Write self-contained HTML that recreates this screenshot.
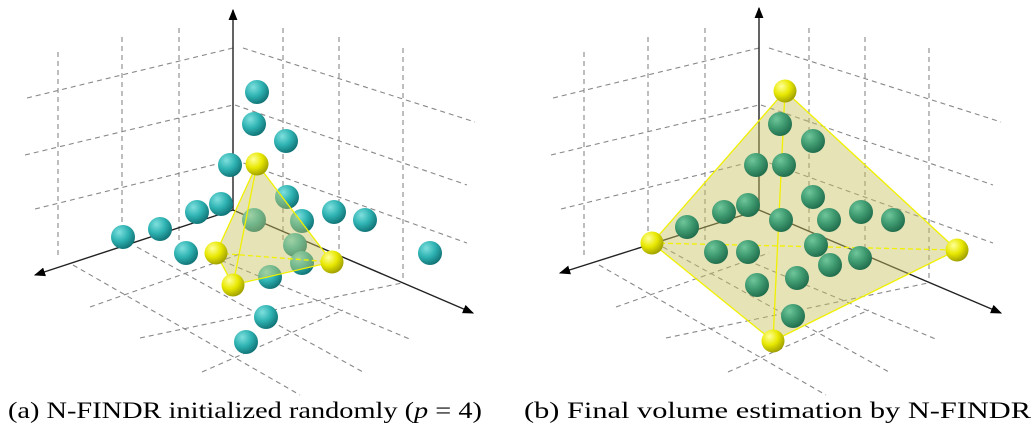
<!DOCTYPE html>
<html><head><meta charset="utf-8"><style>
html,body{margin:0;padding:0;background:#fff;width:1036px;height:436px;overflow:hidden}
svg{display:block}
</style></head><body>
<svg id="fig" width="1036" height="436" viewBox="0 0 1036 436" xmlns="http://www.w3.org/2000/svg">
<defs>
<radialGradient id="gc" cx="0.35" cy="0.3" r="0.75"><stop offset="0" stop-color="#7fe0de"/><stop offset="0.5" stop-color="#2fb3b3"/><stop offset="1" stop-color="#0f6f72"/></radialGradient>
<radialGradient id="gg" cx="0.35" cy="0.3" r="0.75"><stop offset="0" stop-color="#6fc69a"/><stop offset="0.5" stop-color="#3f9a70"/><stop offset="1" stop-color="#1f6a4a"/></radialGradient>
<radialGradient id="gy" cx="0.35" cy="0.3" r="0.75"><stop offset="0" stop-color="#ffff9a"/><stop offset="0.5" stop-color="#e8e800"/><stop offset="1" stop-color="#9a9a00"/></radialGradient>
<marker id="ar" viewBox="0 0 10 10" refX="9" refY="5" markerWidth="8" markerHeight="8" orient="auto"><path d="M0,1 L10,5 L0,9 z" fill="#000"/></marker>
</defs>
<g id="pa"></g>
<g id="pb"></g>
<text x="8" y="418" font-family="Liberation Serif, serif" font-size="23" textLength="474" lengthAdjust="spacingAndGlyphs">(a) N-FINDR initialized randomly (<tspan font-style="italic">p</tspan> = 4)</text>
<text x="524" y="418" font-family="Liberation Serif, serif" font-size="23" textLength="507" lengthAdjust="spacingAndGlyphs">(b) Final volume estimation by N-FINDR</text>
</svg>
<script>
// panel A data (pixel-space projected positions)
const cyanA = [[257,92],[254,124],[286,141],[230,165],[287,197],[197,212],[221,204],[160,229],[123,237],[254,220],[302,221],[334,212],[365,220],[295,245],[186,253],[302,263],[270,277],[430,253],[266,317],[246,342]];
const yellowA = [[257,164],[216,253],[332,262],[233,285]];
const greenB = [[780,124],[813,141],[756,165],[784,165],[813,197],[724,212],[748,205],[687,227],[781,220],[829,220],[861,212],[893,220],[816,245],[716,252],[748,252],[860,258],[830,265],[757,285],[797,278],[793,316]];
const yellowB = [[785,91],[652,243],[957,250],[773,341]];

const NS='http://www.w3.org/2000/svg';
function mk(tag,attrs,parent){const e=document.createElementNS(NS,tag);for(const k in attrs)e.setAttribute(k,attrs[k]);parent.appendChild(e);return e;}

function grid(g,dx){
  const L=[
   [58,52,58,258],[122,37,122,250],[179,28,179,240],
   [27,98,233,48],[25,155,233,105],[35,209,233,160],
   [283,28,283,240],[339,37,339,255],[403,48,403,282],
   [243,48,475,122],[235,105,467,185],[235,160,467,243],
   [73,265,300,395],[137,247,363,372],[213,257,412,340],
   [90,307,243,253],[140,338,402,283],[202,372,343,310]
  ];
  for(const l of L){
    const e=mk('line',{x1:l[0]+dx,y1:l[1],x2:l[2]+dx,y2:l[3],stroke:'#888','stroke-width':1.1,'stroke-dasharray':'5,4'},g);
    
    
  }
}
function axes(g,o,up,lt,rt){
  for(const p of [up,lt,rt]){
    const e=mk('line',{x1:o[0],y1:o[1],x2:p[0],y2:p[1],stroke:'#222','stroke-width':1.4,'marker-end':'url(#ar)'},g);
    
    
  }
}
function simplex(g,v){
  const f=mk('polygon',{points:[v[0],v[1],v[3],v[2]].map(a=>a.join(',')).join(' '),fill:'#c8c060','fill-opacity':0.45,stroke:'#f0f000','stroke-width':1.3},g);
  
  
  const e1=mk('line',{x1:v[0][0],y1:v[0][1],x2:v[3][0],y2:v[3][1],stroke:'#f0f000','stroke-width':1.3},g);
  
  
  const e2=mk('line',{x1:v[1][0],y1:v[1][1],x2:v[2][0],y2:v[2][1],stroke:'#f0f000','stroke-width':1.3,'stroke-dasharray':'5,3'},g);
  
  
}
function balls(g,arr,fill,name,r){
  for(const p of arr){
    const c=mk('circle',{cx:p[0],cy:p[1],r:r,fill:fill},g);
    
    
  }
}
const ga=document.getElementById('pa'), gb=document.getElementById('pb');
grid(ga,0); grid(gb,526);
axes(ga,[233,210],[233,10],[35,275],[473,313]);
balls(ga,cyanA,'url(#gc)','data-point',12);
simplex(ga,yellowA);
balls(ga,yellowA,'url(#gy)','endmember',11.5);
axes(gb,[759,210],[759,8],[560,273],[1001,313]);
simplex(gb,yellowB);
balls(gb,greenB,'url(#gg)','data-point',12);
balls(gb,yellowB,'url(#gy)','endmember',11.5);
</script>
</body></html>
